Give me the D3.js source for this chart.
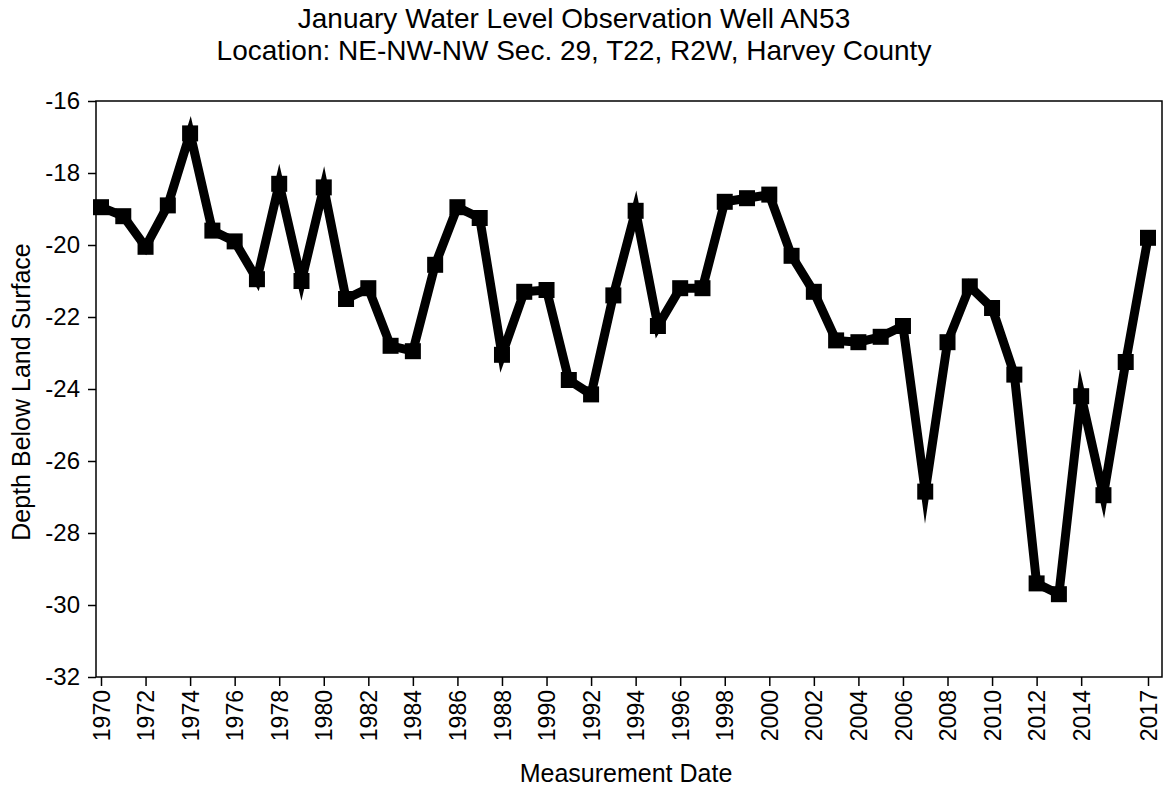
<!DOCTYPE html>
<html lang="en">
<head>
<meta charset="UTF-8">
<title>January Water Level Observation Well AN53</title>
<script src="https://d3js.org/d3.v7.min.js"></script>
<style>
  body { margin: 0; background: #fff; }
  text { font-family: "Liberation Sans", Arial, sans-serif; fill: #000; }
</style>
</head>
<body>
<div id="chart"></div>
<script>
// January readings, one per year
let years = [1970, 1971, 1972, 1973, 1974, 1975, 1976, 1977, 1978, 1979,
             1980, 1981, 1982, 1983, 1984, 1985, 1986, 1987, 1988, 1989,
             1990, 1991, 1992, 1993, 1994, 1995, 1996, 1997, 1998, 1999,
             2000, 2001, 2002, 2003, 2004, 2005, 2006, 2007, 2008, 2009,
             2010, 2011, 2012, 2013, 2014, 2015, 2016, 2017]
let depth = [-18.95, -19.2, -20.05, -18.9, -16.9, -19.6, -19.9, -20.95, -18.3, -21.0,
             -18.4, -21.5, -21.2, -22.8, -22.95, -20.55, -18.95, -19.25, -23.05, -21.3,
             -21.25, -23.75, -24.15, -21.4, -19.05, -22.25, -21.2, -21.2, -18.8, -18.7,
             -18.6, -20.3, -21.3, -22.65, -22.7, -22.55, -22.25, -26.85, -22.7, -21.15,
             -21.75, -23.6, -29.4, -29.7, -24.2, -26.95, -23.25, -19.8]
let xTicks = [1970, 1972, 1974, 1976, 1978, 1980, 1982, 1984, 1986, 1988, 1990, 1992,
              1994, 1996, 1998, 2000, 2002, 2004, 2006, 2008, 2010, 2012, 2014, 2017]
let yTicks = [-16, -18, -20, -22, -24, -26, -28, -30, -32]

let width = 1172,
    height = 787
let plot = {left: 96, right: 1162, top: 101, bottom: 677}

let svg = d3.select("#chart")
  .append("svg")
    .attr("width", width)
    .attr("height", height)

let x = d3.scaleLinear()
  .domain([1970, 2017])
  .range([101, 1148])

let y = d3.scaleLinear()
  .domain([-32, -16])
  .range([plot.bottom, plot.top])

// title
svg.append("text")
  .attr("x", 574).attr("y", 28)
  .attr("text-anchor", "middle")
  .style("font-size", "28px")
  .text("January Water Level Observation Well AN53")
svg.append("text")
  .attr("x", 574).attr("y", 60)
  .attr("text-anchor", "middle")
  .style("font-size", "28px")
  .text("Location: NE-NW-NW Sec. 29, T22, R2W, Harvey County")

// axes (plain hyphen for negatives, like the original)
let yAxis = svg.append("g")
  .attr("transform", "translate(" + plot.left + ",0)")
  .call(d3.axisLeft(y).tickValues(yTicks).tickFormat(function(d) { return String(d) })
        .tickSize(8).tickPadding(8).tickSizeOuter(0))
yAxis.select(".domain").remove()
yAxis.selectAll("text").style("font-size", "24px").style("font-family", "Liberation Sans, Arial, sans-serif")
yAxis.selectAll("line").attr("stroke-width", 1.5)

let xAxis = svg.append("g")
  .attr("transform", "translate(0," + plot.bottom + ")")
  .call(d3.axisBottom(x).tickValues(xTicks).tickFormat(function(d) { return String(d) })
        .tickSize(9).tickSizeOuter(0))
xAxis.select(".domain").remove()
xAxis.selectAll("line").attr("stroke-width", 1.5)
xAxis.selectAll("text")
  .style("font-size", "23px")
  .style("font-family", "Liberation Sans, Arial, sans-serif")
  .attr("text-anchor", "end")
  .attr("transform", "rotate(-90)")
  .attr("x", -13)
  .attr("y", 0)
  .attr("dy", "0.35em")

// frame
svg.append("rect")
  .attr("x", plot.left).attr("y", plot.top)
  .attr("width", plot.right - plot.left)
  .attr("height", plot.bottom - plot.top)
  .attr("fill", "none")
  .attr("stroke", "black")
  .attr("stroke-width", 1.5)

// axis titles
svg.append("text")
  .attr("transform", "translate(30,392) rotate(-90)")
  .attr("text-anchor", "middle")
  .style("font-size", "25px")
  .text("Depth Below Land Surface")
svg.append("text")
  .attr("x", 626).attr("y", 782)
  .attr("text-anchor", "middle")
  .style("font-size", "25px")
  .text("Measurement Date")

// the series
let pts = years.map(function(yr, i) { return {year: yr, value: depth[i]} })

let line = d3.line()
  .x(function(d) { return x(d.year) })
  .y(function(d) { return y(d.value) })

svg.append("path")
  .datum(pts)
  .attr("d", line)
  .attr("fill", "none")
  .attr("stroke", "black")
  .attr("stroke-width", 9)
  .attr("stroke-linejoin", "miter")
  .attr("stroke-miterlimit", 10)

svg.selectAll(".marker")
  .data(pts)
  .enter()
  .append("rect")
    .attr("class", "marker")
    .attr("x", function(d) { return x(d.year) - 8 })
    .attr("y", function(d) { return y(d.value) - 8 })
    .attr("width", 16)
    .attr("height", 16)
    .attr("fill", "black")
</script>
</body>
</html>
